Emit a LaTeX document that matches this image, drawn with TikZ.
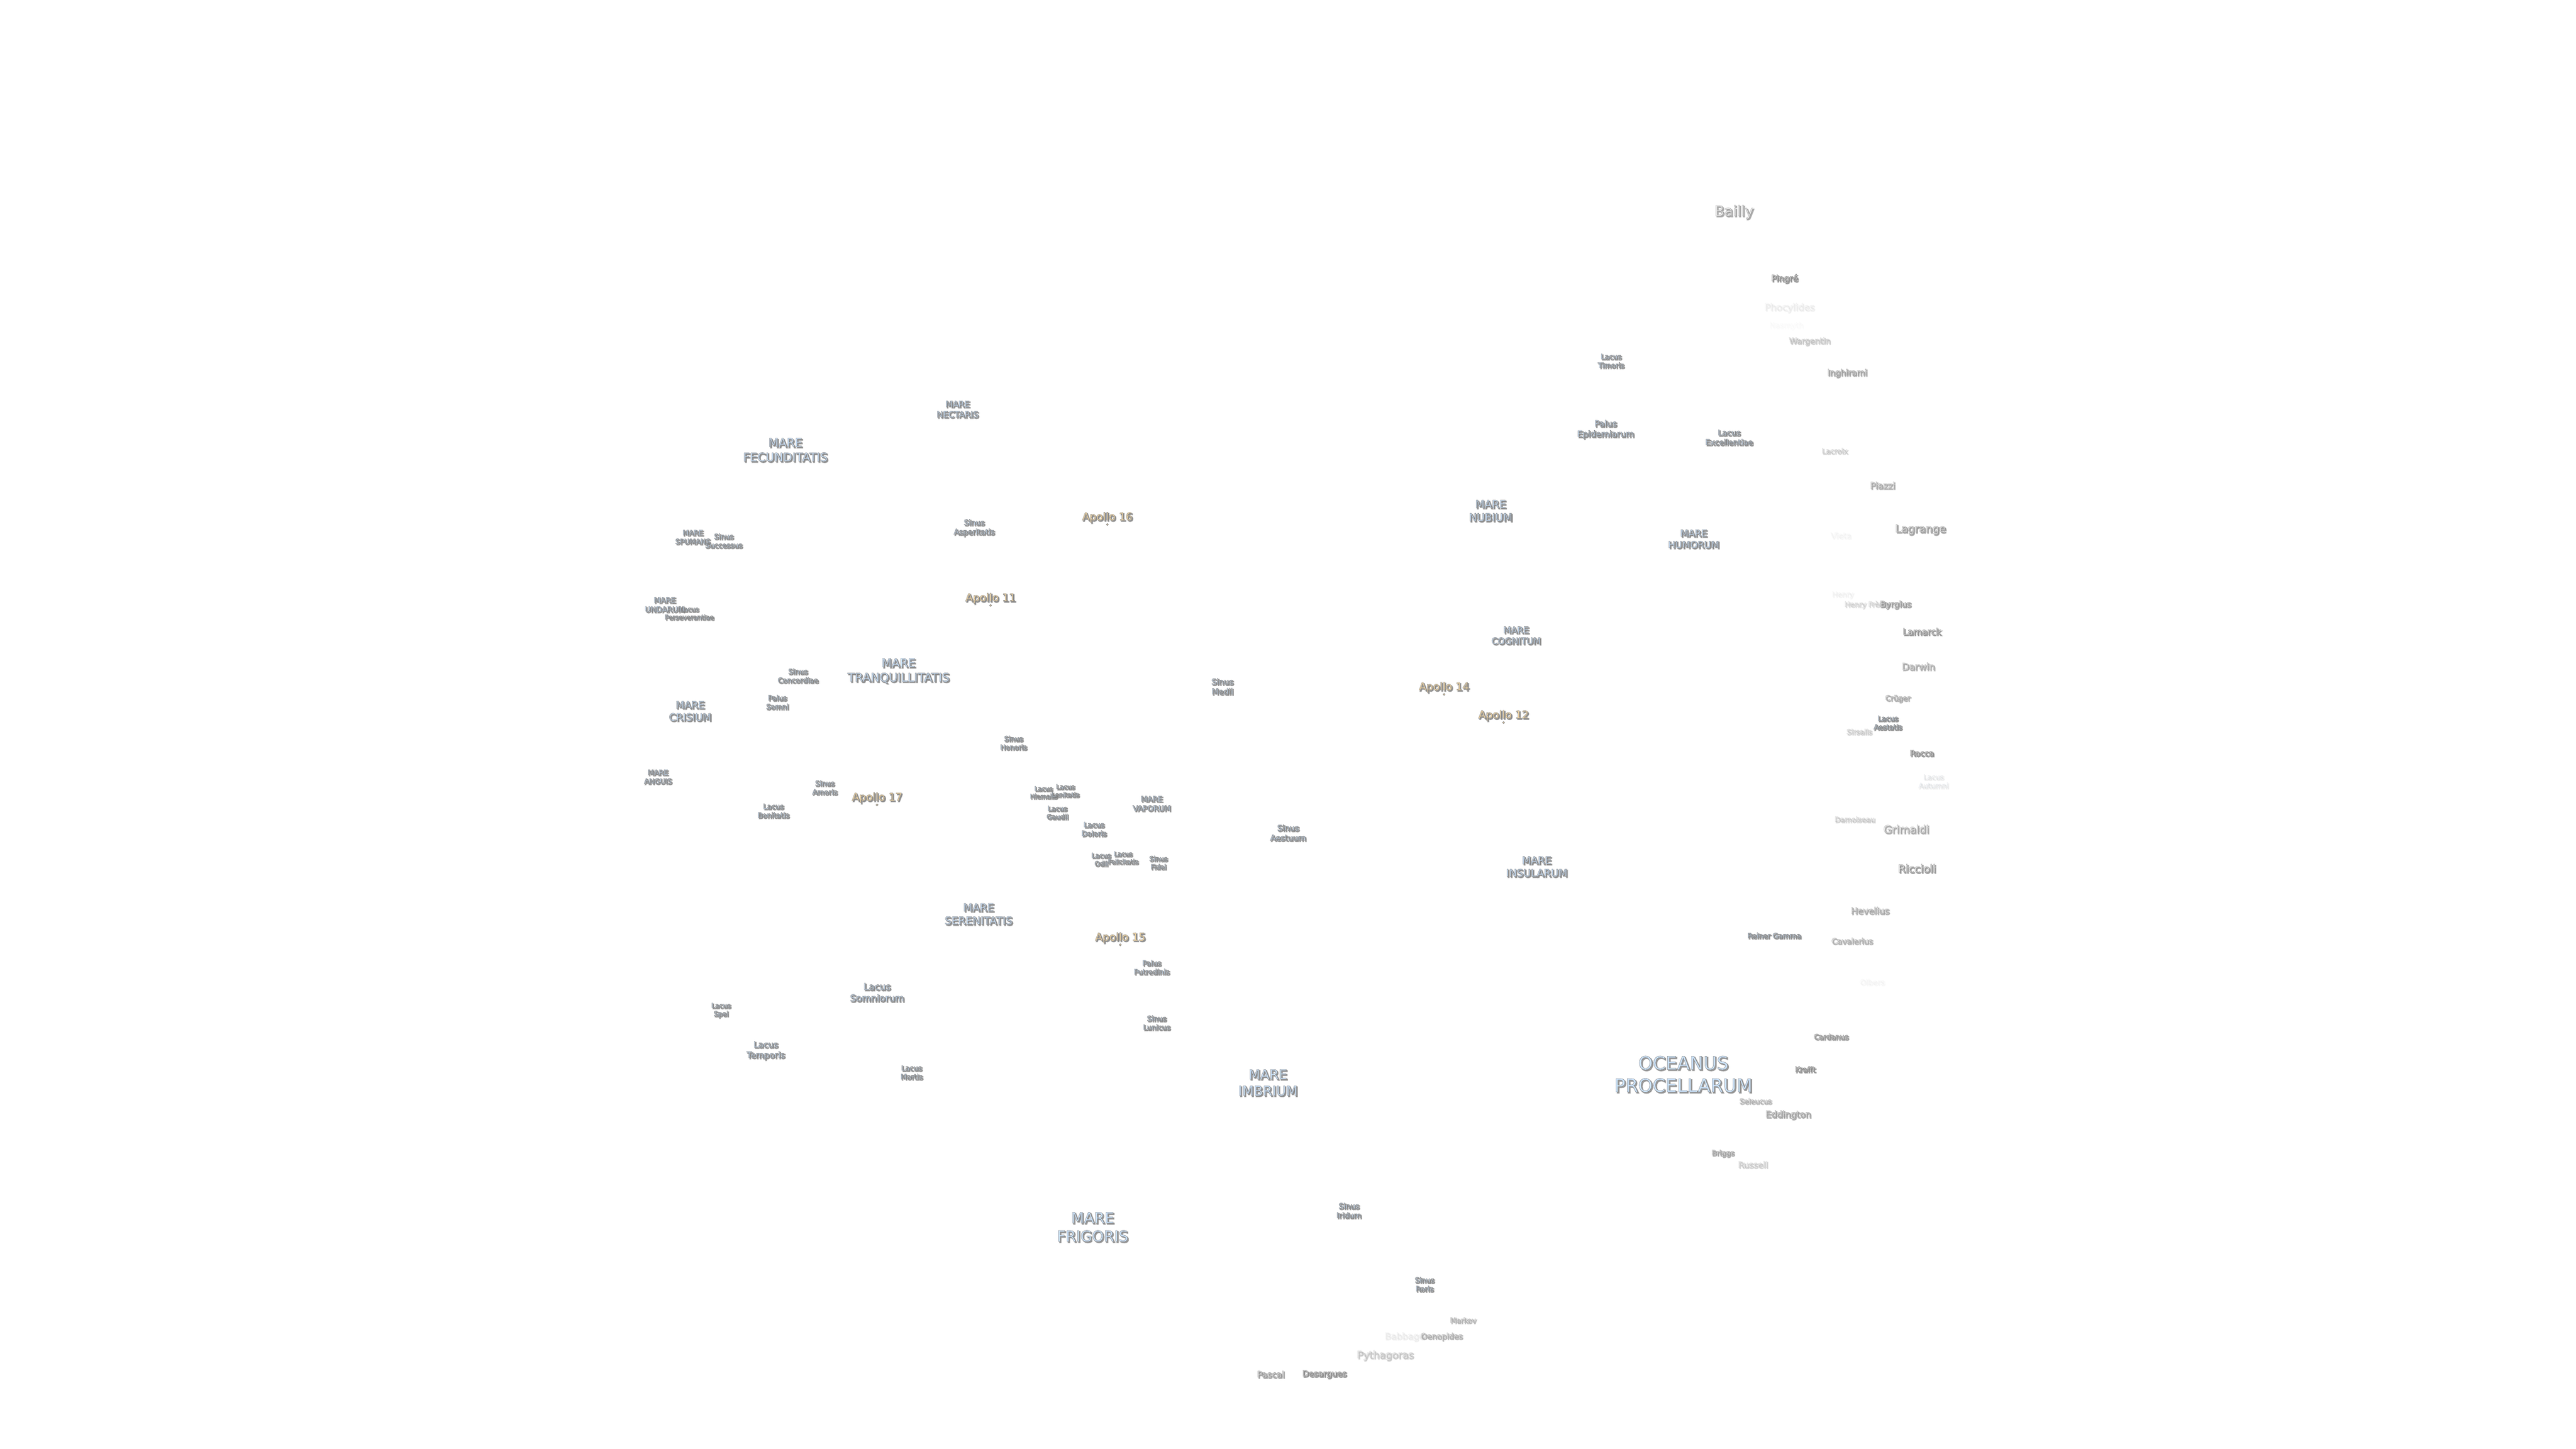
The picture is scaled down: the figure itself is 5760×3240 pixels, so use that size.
\documentclass[tikz,border=0pt]{standalone}
\usepackage{fontspec}
\setmainfont{DejaVu Sans}
\definecolor{mb}{HTML}{CDE5FF}
\definecolor{cr}{HTML}{F2F2F2}
\definecolor{ap}{HTML}{FFE0A8}
\definecolor{shc}{HTML}{707070}
\newcounter{lb}
\tikzset{lbl/.style={inner sep=0pt,outer sep=0pt,align=center,anchor=center}}
\newcommand\strokeon[2]{\special{pdf:code q 2 Tr #1 w #2 G}}
\newcommand\strokeoff{\special{pdf:code Q}}
\newcommand\lab[6]{\stepcounter{lb}%
 \pgfmathsetmacro\fs{#3*0.1}\pgfmathsetmacro\ls{#3*0.122}%
 \pgfmathsetmacro\so{#6*0.65}%
 \node[lbl,opacity=\so,text=shc,font=\fontsize{\fs}{\ls}\selectfont] (L\thelb s) at (#1+2.5,#2+2.5) {\strokeon{0.2}{0.5}#4\strokeoff};
 \node[lbl,opacity=#6,text=#5,font=\fontsize{\fs}{\ls}\selectfont] (L\thelb) at (#1,#2) {\strokeon{0.06}{0.5}#4\strokeoff};
}
\newcommand\apo[3]{\lab{#1}{#2}{24}{Apollo #3}{ap}{1}%
 \node[circle,inner sep=0pt,minimum size=0.45pt,fill=ap,draw=gray,line width=0.1pt] (D#3) at (#1,#2+16) {};}
\begin{document}
\begin{tikzpicture}[x=0.1pt,y=-0.1pt]
\useasboundingbox (0,0) rectangle (5760,3240);
\fill[white] (0,0) rectangle (5760,3240);
% craters
\lab{3877}{474}{32}{Bailly}{cr}{0.7}
\lab{3990}{623}{19}{Pingré}{cr}{0.95}
\lab{4001}{688}{21}{Phocylides}{cr}{0.1}
\lab{3994}{728}{17}{Nasmyth}{cr}{0.02}
\lab{4046}{763}{18}{Wargentin}{cr}{0.35}
\lab{4130}{834}{18.7}{Inghirami}{cr}{0.7}
\lab{4102}{1008}{16}{Lacroix}{cr}{0.3}
\lab{4209}{1085}{20}{Piazzi}{cr}{0.6}
\lab{4294}{1184}{24}{Lagrange}{cr}{0.75}
\lab{4116}{1197}{18}{Vieta}{cr}{0.05}
\lab{4120}{1330}{16}{Henry}{cr}{0.07}
\lab{4175}{1352}{16}{Henry Frères}{cr}{0.25}
\lab{4238}{1352}{18.6}{Byrgius}{cr}{0.75}
\lab{4297}{1412}{20}{Lamarck}{cr}{0.85}
\lab{4289}{1490}{21}{Darwin}{cr}{0.6}
\lab{4243}{1562}{16.5}{Crüger}{cr}{0.6}
\lab{4157}{1636}{16}{Sirsalis}{cr}{0.3}
\lab{4297}{1684}{18}{Rocca}{cr}{0.95}
\lab{4147}{1832}{16}{Damoiseau}{cr}{0.3}
\lab{4262}{1854}{24}{Grimaldi}{cr}{0.6}
\lab{4286}{1942}{24}{Riccioli}{cr}{0.8}
\lab{4181}{2036}{20}{Hevelius}{cr}{0.6}
\lab{4141}{2104}{17.5}{Cavalerius}{cr}{0.55}
\lab{4186}{2196}{17}{Olbers}{cr}{0.05}
\lab{4094}{2318}{16.3}{Cardanus}{cr}{0.85}
\lab{4036}{2391}{16.5}{Krafft}{cr}{0.95}
\lab{3925}{2462}{16}{Seleucus}{cr}{0.5}
\lab{3998}{2493}{20}{Eddington}{cr}{0.7}
\lab{3852}{2579}{16}{Briggs}{cr}{0.65}
\lab{3919}{2604}{19}{Russell}{cr}{0.3}
\lab{3271}{2952}{16}{Markov}{cr}{0.5}
\lab{3140}{2989}{20}{Babbage}{cr}{0.1}
\lab{3223}{2989}{17.5}{Oenopides}{cr}{0.55}
\lab{3097}{3031}{22.5}{Pythagoras}{cr}{0.35}
\lab{2841}{3073}{19.5}{Pascal}{cr}{0.75}
\lab{2961}{3073}{18.6}{Desargues}{cr}{0.95}
% maria, lacus, sinus, palus
\lab{3764}{2402}{41}{OCEANUS\\PROCELLARUM}{mb}{1}
\lab{3602}{807}{16}{Lacus\\Timoris}{mb}{1}
\lab{3590}{960}{19}{Palus\\Epidemiarum}{mb}{1}
\lab{3866}{978}{17.5}{Lacus\\Excellentiae}{mb}{1}
\lab{4221}{1616}{15.7}{Lacus\\Aestatis}{mb}{1}
\lab{4323}{1747}{15.8}{Lacus\\Autumni}{mb}{0.12}
\lab{3967}{2092}{16}{Reiner Gamma}{mb}{1}
\lab{1549}{1201}{16}{MARE\\SPUMANS}{mb}{1}
\lab{1618}{1209}{16}{Sinus\\Successus}{mb}{1}
\lab{1486}{1352}{17}{MARE\\UNDARUM}{mb}{1}
\lab{1541}{1371}{14.6}{Lacus\\Perseverantiae}{mb}{1}
\lab{1543}{1590}{22.5}{MARE\\CRISIUM}{mb}{1}
\lab{1471}{1737}{16}{MARE\\ANGUIS}{mb}{1}
\lab{1784}{1511}{16}{Sinus\\Concordiae}{mb}{1}
\lab{1738}{1570}{16}{Palus\\Somni}{mb}{1}
\lab{1844}{1761}{16}{Sinus\\Amoris}{mb}{1}
\lab{1729}{1813}{16}{Lacus\\Bonitatis}{mb}{1}
\lab{2333}{1772}{14}{Lacus\\Hiemalis}{mb}{1}
\lab{2382}{1768}{14.4}{Lacus\\Lenitatis}{mb}{1}
\lab{2364}{1817}{15}{Lacus\\Gaudii}{mb}{1}
\lab{2446}{1854}{16}{Lacus\\Doloris}{mb}{1}
\lab{2462}{1922}{15}{Lacus\\Odii}{mb}{1}
\lab{2511}{1918}{14.3}{Lacus\\Felicitatis}{mb}{1}
\lab{2590}{1929}{15}{Sinus\\Fidei}{mb}{1}
\lab{2575}{1797}{17}{MARE\\VAPORUM}{mb}{1}
\lab{1756}{1006}{26.5}{MARE\\FECUNDITATIS}{mb}{1}
\lab{2141}{915}{19}{MARE\\NECTARIS}{mb}{1}
\lab{2178}{1180}{17}{Sinus\\Asperitatis}{mb}{1}
\lab{2009}{1500}{26.5}{MARE\\TRANQUILLITATIS}{mb}{1}
\lab{2733}{1535}{18}{Sinus\\Medii}{mb}{1}
\lab{2266}{1661}{15.5}{Sinus\\Honoris}{mb}{1}
\lab{3390}{1421}{20}{MARE\\COGNITUM}{mb}{1}
\lab{3333}{1142}{24}{MARE\\NUBIUM}{mb}{1}
\lab{3787}{1205}{21}{MARE\\HUMORUM}{mb}{1}
\lab{3436}{1938}{23}{MARE\\INSULARUM}{mb}{1}
\lab{2880}{1862}{18}{Sinus\\Aestuum}{mb}{1}
\lab{2188}{2044}{24}{MARE\\SERENITATIS}{mb}{1}
\lab{2575}{2163}{16}{Palus\\Putredinis}{mb}{1}
\lab{2586}{2287}{16}{Sinus\\Lunicus}{mb}{1}
\lab{1961}{2219}{21}{Lacus\\Somniorum}{mb}{1}
\lab{1612}{2259}{15}{Lacus\\Spei}{mb}{1}
\lab{1712}{2349}{19}{Lacus\\Temporis}{mb}{1}
\lab{2038}{2398}{16}{Lacus\\Mortis}{mb}{1}
\lab{2835}{2421}{30}{MARE\\IMBRIUM}{mb}{1}
\lab{2443}{2744}{33.5}{MARE\\FRIGORIS}{mb}{1}
\lab{3016}{2707}{17}{Sinus\\Iridum}{mb}{1}
\lab{3185}{2872}{16}{Sinus\\Roris}{mb}{1}
% apollo sites
\apo{2476}{1157}{16}
\apo{2215}{1338}{11}
\apo{3229}{1537}{14}
\apo{3362}{1600}{12}
\apo{1961}{1784}{17}
\apo{2505}{2097}{15}
\end{tikzpicture}
\end{document}
